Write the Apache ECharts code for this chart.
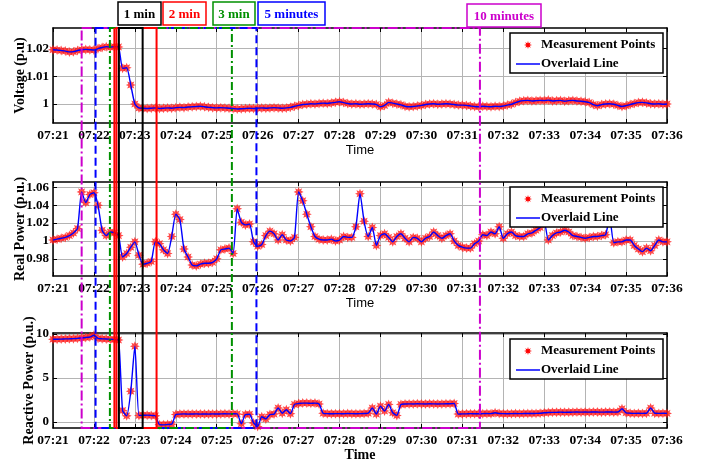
<!DOCTYPE html>
<html><head><meta charset="utf-8">
<script src="https://cdn.jsdelivr.net/npm/echarts@6/dist/echarts.min.js"></script>
<style>html,body{margin:0;padding:0;background:#fff}#c{width:706px;height:466px}</style>
</head><body><div id="c"></div>
<script>
// ---------------- DATA ----------------
const STEP_MIN = 0.1; // sampling step (minutes after 07:21)
const xTickLabels = ['07:21','07:22','07:23','07:24','07:25','07:26','07:27','07:28','07:29','07:30','07:31','07:32','07:33','07:34','07:35','07:36'];
const voltageTicks = [1, 1.01, 1.02];
const voltageTickLabels = ['1', '1.01', '1.02'];
const realTicks = [0.98, 1, 1.02, 1.04, 1.06];
const realTickLabels = ['0.98', '1', '1.02', '1.04', '1.06'];
const reactiveTicks = [0, 5, 10];
const reactiveTickLabels = ['0', '5', '10'];

const voltage = [
1.0195,1.0194,1.0192,1.0190,1.0187,1.0188,1.0192,1.0195,1.0196,1.0195,
1.0194,1.0199,1.0203,1.0206,1.0204,1.0206,1.0205,1.0128,1.0130,1.0068,
1.0000,0.9986,0.9985,0.9984,0.9985,0.9986,0.9984,0.9985,0.9986,0.9985,
0.9987,0.9988,0.9987,0.9989,0.9990,0.9991,0.9992,0.9990,0.9988,0.9987,
0.9986,0.9987,0.9986,0.9985,0.9984,0.9982,0.9983,0.9984,0.9985,0.9984,
0.9985,0.9986,0.9985,0.9986,0.9987,0.9986,0.9985,0.9986,0.9988,0.9992,
0.9995,0.9998,0.9999,1.0001,1.0000,1.0002,1.0003,1.0002,1.0004,1.0006,
1.0008,1.0005,1.0002,1.0000,1.0001,0.9999,1.0000,1.0001,1.0000,0.9998,
0.9990,0.9995,1.0006,1.0003,1.0000,0.9997,0.9992,0.9990,0.9991,0.9993,
0.9995,0.9998,1.0000,1.0001,0.9999,1.0000,1.0001,1.0000,0.9998,0.9996,
0.9996,0.9995,0.9993,0.9991,0.9990,0.9992,0.9991,0.9990,0.9992,0.9991,
0.9993,0.9996,0.9999,1.0005,1.0010,1.0012,1.0013,1.0011,1.0012,1.0013,
1.0012,1.0014,1.0011,1.0012,1.0013,1.0010,1.0012,1.0013,1.0011,1.0010,
1.0008,1.0005,0.9998,0.9994,0.9998,1.0000,1.0001,0.9999,0.9995,0.9991,
0.9994,0.9998,1.0002,1.0005,1.0006,1.0004,1.0001,1.0000,1.0001,0.9999,1.0000
];
const realPower = [
1.001,1.002,1.003,1.004,1.006,1.009,1.014,1.055,1.043,1.052,
1.054,1.040,1.012,1.006,1.010,1.009,1.006,0.982,0.986,0.993,
0.999,0.984,0.974,0.975,0.977,0.999,0.997,0.990,0.986,1.005,
1.030,1.024,0.991,0.982,0.973,0.972,0.974,0.975,0.975,0.976,
0.980,0.990,0.991,0.992,0.986,1.036,1.021,1.018,1.019,0.999,
0.994,0.996,1.006,1.011,1.008,1.001,1.007,1.001,1.000,1.004,
1.055,1.045,1.030,1.016,1.005,1.002,1.001,1.001,1.002,1.000,
1.001,1.005,1.004,1.004,1.016,1.053,1.022,1.005,1.015,0.995,
1.006,1.008,1.004,0.999,1.005,1.008,1.003,0.999,1.004,1.003,
0.999,1.003,1.005,1.010,1.006,1.003,1.006,1.008,1.000,0.995,
0.993,0.992,0.992,0.997,1.000,1.007,1.006,1.010,1.008,1.016,
1.003,1.008,1.010,1.006,1.005,1.005,1.008,1.009,1.012,1.015,
1.022,1.001,1.006,1.009,1.010,1.012,1.010,1.006,1.005,1.004,
1.003,1.004,1.005,1.005,1.006,1.007,1.026,0.998,0.999,0.999,
1.001,1.001,0.995,0.991,0.988,0.992,0.989,0.995,1.001,0.999,0.999
];
const reactivePower = [
9.40,9.40,9.42,9.44,9.45,9.47,9.50,9.55,9.60,9.65,
9.85,9.50,9.46,9.43,9.40,9.36,9.32,1.30,0.70,3.50,
8.60,0.75,0.76,0.78,0.75,0.70,-0.30,-0.32,-0.28,-0.25,
0.85,0.90,0.92,0.90,0.91,0.92,0.90,0.91,0.90,0.92,
0.91,0.92,0.93,0.92,0.93,0.92,-0.20,0.85,0.88,-0.10,
-0.50,0.60,0.35,0.85,0.90,1.60,1.00,1.40,0.95,2.00,
2.10,2.15,2.15,2.12,2.15,2.05,1.00,0.95,0.93,0.95,
0.95,0.94,0.96,0.95,0.94,0.95,0.96,1.00,1.60,0.90,
1.80,1.25,2.00,1.05,0.75,2.00,2.05,2.06,2.05,2.07,
2.06,2.05,2.07,2.06,2.05,2.06,2.07,2.08,2.10,0.90,
0.92,0.93,0.95,0.94,0.93,0.95,0.96,0.95,1.05,0.96,
0.95,0.94,0.95,0.96,0.95,0.96,0.97,0.96,0.98,0.99,
1.05,1.08,1.10,1.10,1.12,1.10,1.11,1.12,1.13,1.12,
1.13,1.12,1.14,1.13,1.12,1.13,1.14,1.12,1.13,1.50,
1.05,1.00,0.98,0.99,0.98,0.99,1.60,1.00,0.98,0.99,0.98
];
// analysis windows (minutes after 07:21)
const windowNames  = ['10 minutes', '5 minutes', '3 min', '2 min', '1 min'];
const windowStarts = [0.70, 1.04, 1.39, 1.55, 1.61];
const windowEnds   = [10.43, 4.97, 4.37, 2.53, 2.19];
const extraRedLineTime = 1.50;

// ---------------- STYLE ----------------
const SERIF = 'Liberation Serif';
const SANS = 'Liberation Sans';
const winColors = ['#cc00cc', '#0000ff', '#009000', '#ff0000', '#000000'];
const winDash = [[10,3,2,3], [8,4], [8,3,2,3], null, null];
const ranges = [[0.99318, 1.02729], [0.9607, 1.0661], [-0.68, 10.11]];
const gridTops = [28, 182, 333];
const gridH = [95, 94, 95];
const GL = 53, GW = 614;

function starPts(cx, cy, R, r) {
  const p = [];
  for (let k = 0; k < 16; k++) {
    const a = k * Math.PI / 8, rr = (k % 2 === 0) ? R : r;
    p.push([cx + rr * Math.cos(a), cy + rr * Math.sin(a)]);
  }
  return p;
}
const STAR = 'path://' + starPts(5,5,5,2.7).map((q,i)=>(i?'L':'M')+q[0].toFixed(2)+','+q[1].toFixed(2)).join('') + 'Z';

const pairs = arr => arr.map((v, i) => [i * STEP_MIN, v]);
const seriesData = [voltage, realPower, reactivePower];
const tickSets = [voltageTicks, realTicks, reactiveTicks];
const tickLabelSets = [voltageTickLabels, realTickLabels, reactiveTickLabels];
const yNames = ['Voltage (p.u)', 'Real Power (p.u.)', 'Reactive Power (p.u.)'];
const yNameGaps = [26, 26, 17];

const chart = echarts.init(document.getElementById('c'), null, {renderer: 'canvas'});

const grid = [], xAxis = [], yAxis = [], series = [];
for (let k = 0; k < 3; k++) {
  grid.push({left: GL, top: gridTops[k], width: GW, height: gridH[k], show: false,
    containLabel: false, outerBoundsMode: 'none'});
}
for (let k = 0; k < 3; k++) {
  const bottomName = k === 2
    ? {name: 'Time', nameTextStyle: {fontFamily: SERIF, fontWeight: 'bold', fontSize: 14, color: '#000'}, nameGap: 20}
    : {name: 'Time', nameTextStyle: {fontFamily: SANS, fontSize: 13, color: '#000'}, nameGap: 21};
  xAxis.push(Object.assign({
    type: 'value', gridIndex: k, position: 'bottom', min: 0, max: 15, interval: 1,
    nameLocation: 'middle', nameMoveOverlap: false,
    axisLine: {show: true, onZero: false, lineStyle: {color: '#000', width: 1.5}},
    axisTick: {show: true, inside: true, length: 4, lineStyle: {color: '#000'}},
    axisLabel: {show: true, margin: 6, showMinLabel: true, showMaxLabel: true, fontFamily: SERIF, fontWeight: 'bold', fontSize: 13.5, color: '#000',
      formatter: v => xTickLabels[Math.round(v)]},
    splitLine: {show: true, lineStyle: {color: '#b4b4b4', width: 1}}
  }, bottomName));
}
for (let k = 0; k < 3; k++) {
  xAxis.push({
    type: 'value', gridIndex: k, position: 'top', min: 0, max: 15, interval: 1,
    axisLine: {show: true, onZero: false, lineStyle: {color: '#000', width: 1.5}},
    axisTick: {show: true, inside: true, length: 4, lineStyle: {color: '#000'}},
    axisLabel: {show: false}, splitLine: {show: false}
  });
}
for (let k = 0; k < 3; k++) {
  const ticks = tickSets[k], labs = tickLabelSets[k];
  yAxis.push({
    type: 'value', gridIndex: k, position: 'left', min: ranges[k][0], max: ranges[k][1],
    name: yNames[k], nameLocation: 'middle', nameRotate: 90, nameGap: yNameGaps[k], nameMoveOverlap: false,
    nameTextStyle: {fontFamily: SERIF, fontWeight: 'bold', fontSize: 14, color: '#000'},
    axisLine: {show: true, onZero: false, lineStyle: {color: '#000', width: 1.5}},
    axisTick: {show: true, inside: true, length: 4, customValues: ticks, lineStyle: {color: '#000'}},
    axisLabel: {show: true, margin: 4, customValues: ticks, fontFamily: SERIF, fontWeight: 'bold', fontSize: 13, color: '#000',
      formatter: v => { let b = 0; ticks.forEach((t, i) => { if (Math.abs(t - v) < Math.abs(ticks[b] - v)) b = i; }); return labs[b]; }},
    splitLine: {show: true, lineStyle: {color: '#b4b4b4', width: 1}}
  });
}
for (let k = 0; k < 3; k++) {
  yAxis.push({
    type: 'value', gridIndex: k, position: 'right', min: ranges[k][0], max: ranges[k][1],
    axisLine: {show: true, onZero: false, lineStyle: {color: '#000', width: 1.5}},
    axisTick: {show: true, inside: true, length: 4, customValues: tickSets[k], lineStyle: {color: '#000'}},
    axisLabel: {show: false}, splitLine: {show: false}
  });
}
for (let k = 0; k < 3; k++) {
  series.push({
    type: 'scatter', name: 'Measurement Points', xAxisIndex: k, yAxisIndex: k,
    data: pairs(seriesData[k]), symbol: STAR, symbolSize: 10,
    itemStyle: {color: '#ff1a1a'}, z: 2, silent: true
  });
  series.push({
    type: 'line', name: 'Overlaid Line', xAxisIndex: k, yAxisIndex: k,
    data: pairs(seriesData[k]), showSymbol: false, symbol: 'none', smooth: 0.2,
    lineStyle: {color: '#0000ff', width: 1.4}, z: 3, silent: true
  });
}

chart.setOption({animation: false, backgroundColor: '#fff', grid, xAxis, yAxis, series});

// ---------------- WINDOW OVERLAYS & LEGENDS ----------------
const g = [];
const xp = t => chart.convertToPixel({xAxisIndex: 0}, t);
const yTop = chart.convertToPixel({yAxisIndex: 0}, ranges[0][1]);
const yBot = chart.convertToPixel({yAxisIndex: 2}, ranges[2][0]);
for (let i = 0; i < windowStarts.length; i++) {
  const x1 = xp(windowStarts[i]), x2 = xp(windowEnds[i]);
  g.push({type: 'rect', z: 100, silent: true,
    shape: {x: x1, y: yTop, width: x2 - x1, height: yBot - yTop},
    style: {fill: 'none', stroke: winColors[i], lineWidth: 2, lineDash: winDash[i] || null}});
}
const xr = xp(extraRedLineTime);
g.push({type: 'line', z: 100, silent: true, shape: {x1: xr, y1: yTop, x2: xr, y2: yBot},
  style: {stroke: '#ff0000', lineWidth: 2}});

// label boxes
const boxes = [
  {i: 4, x: 118, y: 2, w: 43, h: 23},
  {i: 3, x: 163, y: 2, w: 43, h: 23},
  {i: 2, x: 213, y: 2, w: 42, h: 23},
  {i: 1, x: 258, y: 2, w: 67, h: 23},
  {i: 0, x: 467, y: 4, w: 74, h: 23}
];
boxes.forEach(b => {
  g.push({type: 'rect', z: 110, silent: true, shape: {x: b.x, y: b.y, width: b.w, height: b.h},
    style: {fill: '#fff', stroke: winColors[b.i], lineWidth: 1.5}});
  g.push({type: 'text', z: 111, silent: true, style: {
    text: windowNames[b.i], x: b.x + b.w / 2, y: b.y + b.h / 2 + 1,
    textAlign: 'center', textVerticalAlign: 'middle', align: 'center', verticalAlign: 'middle',
    font: 'bold 13px "' + SERIF + '"', fill: winColors[b.i]}});
});

// legends
const legendTops = [33, 187, 339];
legendTops.forEach(top => {
  const lx = 510;
  g.push({type: 'rect', z: 120, silent: true, shape: {x: lx, y: top, width: 153, height: 40},
    style: {fill: '#fff', stroke: '#000', lineWidth: 1.5}});
  g.push({type: 'polygon', z: 121, silent: true, shape: {points: starPts(lx + 18, top + 12, 4, 1.8)},
    style: {fill: '#ff0000'}});
  g.push({type: 'text', z: 121, silent: true, style: {text: 'Measurement Points', x: lx + 31, y: top + 12,
    textAlign: 'left', textVerticalAlign: 'middle', align: 'left', verticalAlign: 'middle',
    font: 'bold 13px "' + SERIF + '"', fill: '#000'}});
  g.push({type: 'line', z: 121, silent: true, shape: {x1: lx + 6, y1: top + 31, x2: lx + 30, y2: top + 31},
    style: {stroke: '#0000ff', lineWidth: 1.5}});
  g.push({type: 'text', z: 121, silent: true, style: {text: 'Overlaid Line', x: lx + 31, y: top + 31,
    textAlign: 'left', textVerticalAlign: 'middle', align: 'left', verticalAlign: 'middle',
    font: 'bold 13px "' + SERIF + '"', fill: '#000'}});
});
chart.setOption({graphic: g});
</script></body></html>
